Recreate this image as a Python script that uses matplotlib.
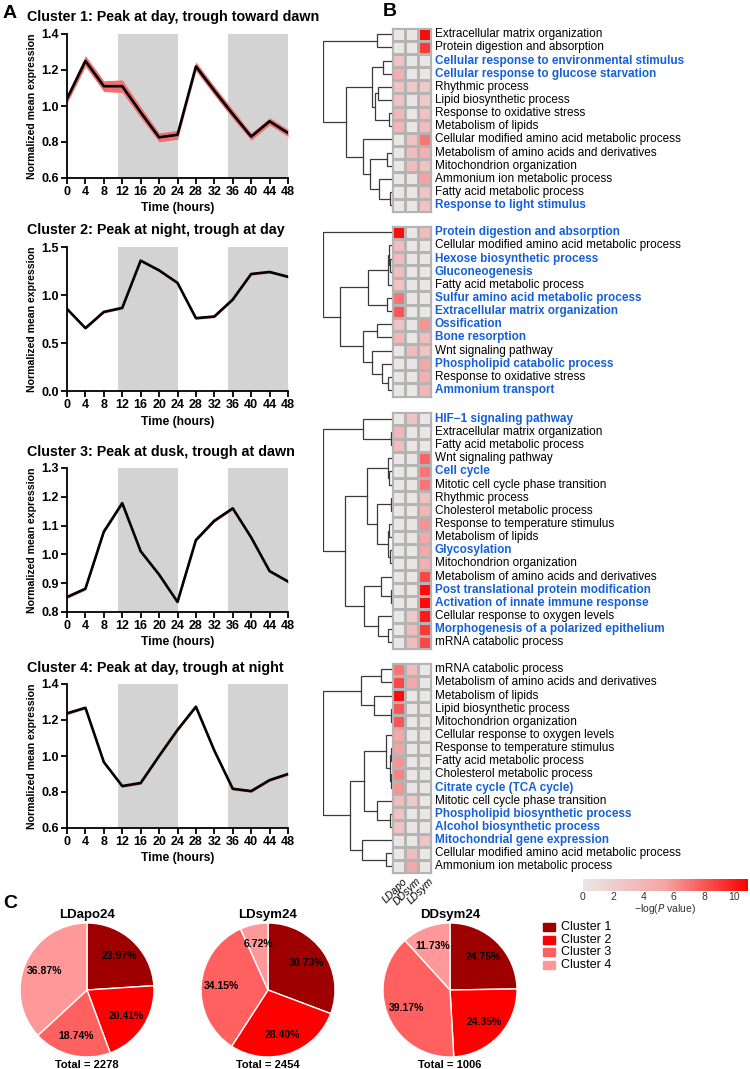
import numpy as np
import matplotlib
matplotlib.use('Agg')
import matplotlib.pyplot as plt
from matplotlib.colors import LinearSegmentedColormap, Normalize
from matplotlib.cm import ScalarMappable

plt.rcParams['font.family'] = ['Liberation Sans', 'DejaVu Sans']

W, H = 750, 1069

# ---------------- data: panel A ----------------
hours = np.arange(0, 49, 4)
titles = ['Cluster 1: Peak at day, trough toward dawn',
          'Cluster 2: Peak at night, trough at day',
          'Cluster 3: Peak at dusk, trough at dawn',
          'Cluster 4: Peak at day, trough at night']
c1_mean = [1.04, 1.25, 1.11, 1.11, 0.965, 0.826, 0.84, 1.22, 1.085, 0.955, 0.83, 0.915, 0.85]
c1_sem = [0.025, 0.03, 0.03, 0.035, 0.03, 0.025, 0.025, 0.025, 0.025, 0.025, 0.02, 0.02, 0.02]
c2_mean = [0.855, 0.655, 0.824, 0.866, 1.358, 1.257, 1.126, 0.759, 0.776, 0.953, 1.219, 1.24, 1.19]
c2_sem = [0.012] * 13
c3_mean = [0.852, 0.881, 1.079, 1.178, 1.011, 0.93, 0.835, 1.05, 1.117, 1.16, 1.059, 0.942, 0.906]
c3_sem = [0.005] * 13
c4_mean = [1.237, 1.268, 0.966, 0.833, 0.85, 1.0, 1.145, 1.274, 1.03, 0.818, 0.805, 0.866, 0.9]
c4_sem = [0.007] * 13
ylims = [(0.6, 1.4), (0.0, 1.5), (0.8, 1.3), (0.6, 1.4)]
yticks = [np.arange(0.6, 1.41, 0.2), np.arange(0, 1.51, 0.5), np.arange(0.8, 1.31, 0.1), np.arange(0.6, 1.41, 0.2)]
dark_periods = [(11, 24), (35, 48)]

# ---------------- data: panel B ----------------
conds = ['LDapo', 'DDsym', 'LDsym']
terms1 = ['Extracellular matrix organization', 'Protein digestion and absorption',
          'Cellular response to environmental stimulus', 'Cellular response to glucose starvation',
          'Rhythmic process', 'Lipid biosynthetic process', 'Response to oxidative stress',
          'Metabolism of lipids', 'Cellular modified amino acid metabolic process',
          'Metabolism of amino acids and derivatives', 'Mitochondrion organization',
          'Ammonium ion metabolic process', 'Fatty acid metabolic process', 'Response to light stimulus']
vals1 = [[0, 0, 10.5], [0, 0, 9], [3, 0, 0], [4.5, 0, 0], [3, 2.5, 2.5], [3, 0, 2.5], [4, 0, 3],
         [4, 0, 3.5], [0, 3, 7], [0, 3.5, 4.5], [0, 3.5, 3], [0, 0, 5.5], [0, 0, 3], [0, 0, 3]]
blue1 = [2, 3, 13]
links1 = [(0, 1, 43), (2, 3, 27), (4, 5, 40), (6, 7, 8), (16, 17, 50), (15, 18, 60),
          (9, 10, 15), (12, 13, 6), (11, 21, 37), (20, 22, 65), (8, 23, 87), (19, 24, 138), (14, 25, 207)]

terms2 = ['Protein digestion and absorption', 'Cellular modified amino acid metabolic process',
          'Hexose biosynthetic process', 'Gluconeogenesis', 'Fatty acid metabolic process',
          'Sulfur amino acid metabolic process', 'Extracellular matrix organization', 'Ossification',
          'Bone resorption', 'Wnt signaling pathway', 'Phospholipid catabolic process',
          'Response to oxidative stress', 'Ammonium transport']
vals2 = [[10.5, 0, 3.5], [3.5, 0, 0], [3.5, 0, 0], [3.5, 0, 0], [3, 0, 0], [7, 0, 0], [8, 0, 0],
         [3, 0, 6], [4, 0, 3.5], [0, 3.5, 3], [0, 0, 5], [0, 0, 4.5], [0, 0, 4]]
blue2 = [0, 2, 3, 5, 6, 7, 8, 10, 12]
links2 = [(2, 3, 6), (1, 13, 8), (4, 14, 12), (5, 6, 15), (15, 16, 72), (7, 8, 45),
          (11, 12, 10), (10, 19, 30), (9, 20, 60), (18, 21, 87), (17, 22, 155), (0, 23, 207)]

terms3 = ['HIF\u22121 signaling pathway', 'Extracellular matrix organization', 'Fatty acid metabolic process',
          'Wnt signaling pathway', 'Cell cycle', 'Mitotic cell cycle phase transition', 'Rhythmic process',
          'Cholesterol metabolic process', 'Response to temperature stimulus', 'Metabolism of lipids',
          'Glycosylation', 'Mitochondrion organization', 'Metabolism of amino acids and derivatives',
          'Post translational protein modification', 'Activation of innate immune response',
          'Cellular response to oxygen levels', 'Morphogenesis of a polarized epithelium',
          'mRNA catabolic process']
vals3 = [[0, 3, 0], [4, 0, 0], [3.5, 0, 0], [0, 0, 7.5], [0, 0, 7], [0, 0, 7], [0, 0, 3], [0, 0, 4],
         [0, 0, 6], [0, 0, 5], [0, 0, 5], [0, 0, 4.5], [0, 0, 8.5], [0, 0, 10.5], [0, 0, 10.5],
         [0, 2.5, 10], [0, 3.5, 9], [0, 3.5, 8.5]]
blue3 = [0, 4, 10, 13, 14, 16]
links3 = [(1, 2, 2), (0, 18, 85), (4, 5, 8), (3, 20, 12), (6, 7, 3), (8, 9, 8), (10, 11, 5),
          (23, 24, 10), (22, 25, 45), (21, 26, 75), (13, 14, 1), (12, 28, 33), (16, 17, 10),
          (15, 30, 40), (29, 31, 82), (27, 32, 140), (19, 33, 207)]

terms4 = ['mRNA catabolic process', 'Metabolism of amino acids and derivatives', 'Metabolism of lipids',
          'Lipid biosynthetic process', 'Mitochondrion organization', 'Cellular response to oxygen levels',
          'Response to temperature stimulus', 'Fatty acid metabolic process', 'Cholesterol metabolic process',
          'Citrate cycle (TCA cycle)', 'Mitotic cell cycle phase transition',
          'Phospholipid biosynthetic process', 'Alcohol biosynthetic process',
          'Mitochondrial gene expression', 'Cellular modified amino acid metabolic process',
          'Ammonium ion metabolic process']
vals4 = [[7, 3.5, 0], [8.5, 5, 0], [10.5, 0, 0], [8, 0, 0], [8, 0, 0], [5, 0, 0], [5.5, 0, 0],
         [6, 0, 0], [6.5, 0, 0], [6, 0, 0], [3.5, 2.5, 0], [3, 0, 0], [3, 0, 0], [0, 0, 3],
         [0, 3.5, 0], [0, 5, 0]]
blue4 = [9, 11, 12, 13]
links4 = [(0, 1, 33), (3, 4, 3), (2, 17, 53), (16, 18, 93), (6, 7, 3), (8, 9, 3), (20, 21, 6),
          (5, 22, 18), (11, 12, 5), (10, 24, 43), (23, 25, 83), (14, 15, 18), (13, 27, 88),
          (26, 28, 126), (19, 29, 206)]

# ---------------- data: panel C ----------------
pie_names = ['LDapo24', 'LDsym24', 'DDsym24']
pie_totals = [2278, 2454, 1006]
pie_pcts = [[23.97, 20.41, 18.74, 36.87],
            [30.73, 28.40, 34.15, 6.72],
            [24.75, 24.35, 39.17, 11.73]]
cluster_names = ['Cluster 1', 'Cluster 2', 'Cluster 3', 'Cluster 4']
cluster_colors = ['#9e0000', '#ff0000', '#ff6060', '#ff9999']


def px_axes(fig, x0, y0, x1, y1):
    return fig.add_axes([x0 / W, 1 - y1 / H, (x1 - x0) / W, (y1 - y0) / H])


fig = plt.figure(figsize=(W / 100, H / 100), dpi=100)

# ---------------- panel A ----------------
means = [c1_mean, c2_mean, c3_mean, c4_mean]
sems = [c1_sem, c2_sem, c3_sem, c4_sem]
ax_tops = [34, 247, 468, 684]
title_y = [17, 230, 452, 668]
for i in range(4):
    top = ax_tops[i]
    ax = px_axes(fig, 67, top, 288, top + 144)
    for a, b in dark_periods:
        ax.axvspan(a, b, color='#d3d3d3', lw=0, zorder=0)
    m = np.array(means[i])
    s = np.array(sems[i])
    ax.fill_between(hours, m - s, m + s, color='#f07070', lw=0, zorder=2)
    ax.plot(hours, m, color='black', lw=1.9, zorder=3)
    ax.set_xlim(0, 48)
    ax.set_ylim(*ylims[i])
    ax.set_xticks(hours)
    ax.set_yticks(yticks[i])
    ax.set_yticklabels(['%.1f' % v for v in yticks[i]])
    for sp in ['top', 'right']:
        ax.spines[sp].set_visible(False)
    for sp in ['left', 'bottom']:
        ax.spines[sp].set_linewidth(1.3)
    ax.tick_params(width=1.3, length=4, labelsize=9, pad=2)
    for lab in ax.get_xticklabels() + ax.get_yticklabels():
        lab.set_fontweight('bold')
    ax.set_xlabel('Time (hours)', fontsize=8.7, fontweight='bold', labelpad=3)
    ax.set_ylabel('Normalized mean expression', fontsize=7.6, fontweight='bold', labelpad=3)
    fig.text(27 / W, 1 - title_y[i] / H, titles[i], fontsize=10.3, fontweight='bold',
             ha='left', va='center')

fig.text(3 / W, 1 - 13 / H, 'A', fontsize=14, fontweight='bold', ha='left', va='center')
fig.text(383 / W, 1 - 11 / H, 'B', fontsize=14, fontweight='bold', ha='left', va='center')
fig.text(3 / W, 1 - 903 / H, 'C', fontsize=14, fontweight='bold', ha='left', va='center')

# ---------------- panel B ----------------
cmap = LinearSegmentedColormap.from_list('gr', ['#ebe6e6', '#f4a4a4', '#ff0000'])
norm = Normalize(0, 10.9)
row_h = 13.14
blocks = [(terms1, vals1, blue1, links1, 27.7),
          (terms2, vals2, blue2, links2, 225.7),
          (terms3, vals3, blue3, links3, 412.3),
          (terms4, vals4, blue4, links4, 662.7)]
hm_x0, hm_x1 = 391.7, 431.0
for terms, vals, blue, links, top in blocks:
    n = len(terms)
    bottom = top + n * row_h
    axh = px_axes(fig, hm_x0, top, hm_x1, bottom)
    axh.pcolormesh(np.array(vals), cmap=cmap, norm=norm, edgecolors='#b4b4b4', linewidth=0.9)
    axh.set_xlim(0, 3)
    axh.set_ylim(n, 0)
    axh.set_xticks([])
    axh.set_yticks([])
    for sp in axh.spines.values():
        sp.set_color('#b4b4b4')
        sp.set_linewidth(0.9)
    for r, t in enumerate(terms):
        yc = top + (r + 0.5) * row_h
        if r in blue:
            fig.text(435 / W, 1 - yc / H, t, fontsize=8.5, color='#1560d8', fontweight='bold',
                     ha='left', va='center')
        else:
            fig.text(435 / W, 1 - yc / H, t, fontsize=8.5, color='black', ha='left', va='center')
    # dendrogram
    axd = px_axes(fig, 322.7, top, hm_x0, bottom)
    pos = {k: k + 0.5 for k in range(n)}
    hgt = {k: 0 for k in range(n)}
    for k, (a, b, h) in enumerate(links):
        axd.plot([hgt[a], h, h, hgt[b]], [pos[a], pos[a], pos[b], pos[b]],
                 color='#3a3a3a', lw=0.9, solid_joinstyle='miter')
        pos[n + k] = (pos[a] + pos[b]) / 2
        hgt[n + k] = h
    axd.set_xlim(207, 0)
    axd.set_ylim(n, 0)
    axd.axis('off')

# column labels
for j, c in enumerate(conds):
    xc = hm_x0 + (j + 0.5) * (hm_x1 - hm_x0) / 3
    fig.text((xc + 4) / W, 1 - 876 / H, c, fontsize=7.5, style='italic', rotation=45,
             rotation_mode='anchor', ha='right', va='top')

# colorbar
cax = px_axes(fig, 583, 879, 748, 891)
cb = fig.colorbar(ScalarMappable(norm=norm, cmap=cmap), cax=cax, orientation='horizontal')
cb.outline.set_visible(False)
cb.set_ticks([0, 2, 4, 6, 8, 10])
cb.ax.tick_params(length=0, labelsize=7.5, pad=1, labelcolor='#333333')
fig.text(665 / W, 1 - 909 / H, '\u2212log($\\it{P}$ value)', fontsize=7.5, color='#333333',
         ha='center', va='center')

# ---------------- panel C ----------------
pie_cx = [87, 268, 450]
for i in range(3):
    cx, cy, r = pie_cx[i], 990, 67
    axp = px_axes(fig, cx - r, cy - r, cx + r, cy + r)
    wedges, texts, autotexts = axp.pie(pie_pcts[i], colors=cluster_colors, startangle=90,
                                       counterclock=False, autopct='%.2f%%', pctdistance=0.7,
                                       wedgeprops=dict(edgecolor='white', linewidth=1),
                                       textprops=dict(fontsize=7.5, fontweight='bold'))
    axp.set_xlim(-1, 1)
    axp.set_ylim(-1, 1)
    fig.text(cx / W, 1 - 915 / H, pie_names[i], fontsize=9.5, fontweight='bold', ha='center', va='center')
    fig.text(cx / W, 1 - 1065 / H, 'Total = %d' % pie_totals[i], fontsize=8, fontweight='bold',
             ha='center', va='center')

for k in range(4):
    yk = 927 + k * 12.7
    fig.patches.append(plt.Rectangle((543 / W, 1 - (yk + 4) / H), 12 / W, 8 / H,
                                     transform=fig.transFigure, color=cluster_colors[k]))
    fig.text(561 / W, 1 - yk / H, cluster_names[k], fontsize=9, ha='left', va='center')

fig.savefig('out.png', dpi=100)
